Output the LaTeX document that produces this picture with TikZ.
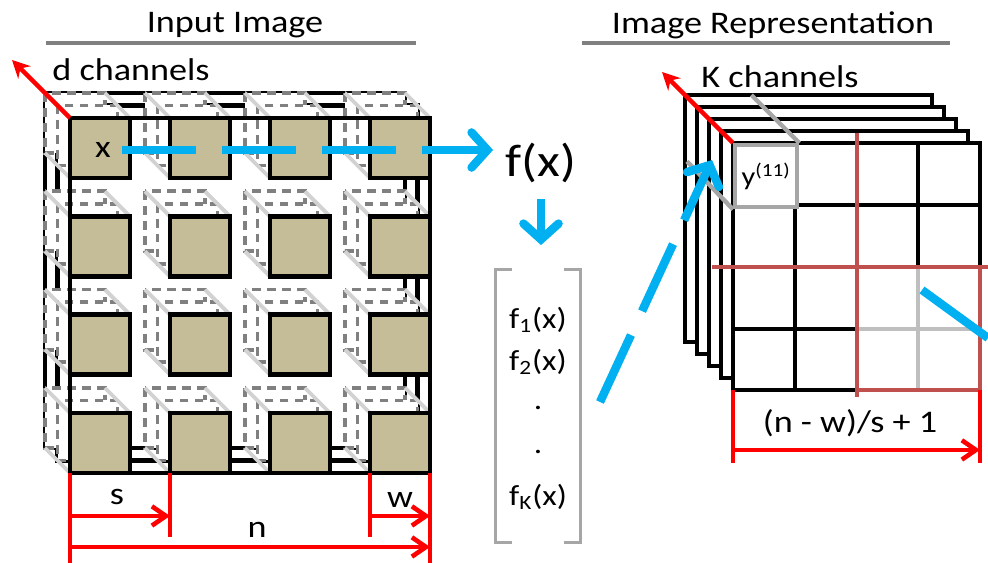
\documentclass[tikz,border=0pt]{standalone}
\usepackage{fontspec}
\setmainfont{Carlito}[FakeStretch=1.15]
\usetikzlibrary{arrows.meta,positioning,calc}
\definecolor{sky}{RGB}{0,176,240}
\definecolor{khaki}{RGB}{196,189,151}
\definecolor{rust}{RGB}{192,80,77}
\definecolor{ash}{RGB}{128,128,128}
\definecolor{silver}{RGB}{166,166,166}
\definecolor{pale}{RGB}{191,191,191}
\definecolor{mist}{RGB}{210,210,210}
\definecolor{signal}{RGB}{255,0,0}
\tikzset{
  txt/.style={font=\fontsize{17.9}{21}\selectfont,inner sep=0pt},
  entry/.style={font=\fontsize{16.5}{19}\selectfont,inner sep=0pt},
  rule/.style={ash,line width=1.8pt},
  layer/.style={draw=black,line width=2.5pt},
  ghost/.style={draw=ash,fill=white,line width=2.1pt,dash pattern=on 5pt off 3.5pt},
  edge/.style={mist,line width=2.2pt},
  patch/.style={draw=black,fill=khaki,line width=2.5pt,minimum size=1.2cm,inner sep=0pt,outer sep=0pt,anchor=north west},
  flow/.style={sky,line width=4.8pt,-{Straight Barb[length=9pt,width=20pt,line cap=round]}},
  jump/.style={flow,dash pattern=on 42pt off 15pt},
  dim/.style={signal,line width=2.6pt},
  dimarrow/.style={dim,-{Straight Barb[length=8pt,width=11pt]}},
  depth/.style={signal,line width=2.6pt,-{Stealth[length=10pt,width=10pt]}},
  cell/.style={black,line width=2.5pt},
  win/.style={rust,line width=2.8pt},
  brk/.style={silver,line width=1.8pt},
}
\begin{document}
\begin{tikzpicture}[x=0.02cm,y=-0.02cm]
  \useasboundingbox (0,0) rectangle (988,563);
  % titles
  \node[txt] (tin) at (235,25) {Input Image};
  \node[txt] (tout) at (773,25) {Image Representation};
  \draw[rule] (46,43) -- (416,43) (582,43) -- (950,43);

  % input volume, back layers first
  \foreach \k in {2,1}
    \draw[layer] (70-12.5*\k,118-12.5*\k) rectangle ++(360,355);
  \foreach \col in {0,...,3}
    \foreach \row in {0,...,3} {
      \coordinate (p) at (70+100*\col,118+98.33*\row);
      \draw[ghost] ($(p)+(-25,-25)$) rectangle ++(60,60);
      \draw[ghost] ($(p)+(-12.5,-12.5)$) rectangle ++(60,60);
      \draw[edge] ($(p)+(-25,-25)$) -- (p) ($(p)+(35,-25)$) -- ($(p)+(60,0)$)
        ($(p)+(-25,35)$) -- ($(p)+(0,60)$);
      \node[patch] (w\col\row) at (p) {};
    }
  \draw[layer] (70,118) rectangle (430,473);
  \node[txt] (xin) at (103,150) {x};
  \draw[depth] (w00.north west) -- ++(-58,-58);
  \node[txt] (dch) at (131,70) {d channels};

  % sizes under the input
  \draw[dim] (w03.south west) -- ++(0,90) (w13.south west) -- ++(0,64)
    (w33.south west) -- ++(0,64) (w33.south east) -- ++(0,90);
  \draw[dimarrow] ($(w03.south west)+(0,43)$) -- ($(w13.south west)+(0,43)$);
  \draw[dimarrow] ($(w33.south west)+(0,43)$) -- ($(w33.south east)+(0,43)$);
  \draw[dimarrow] ($(w03.south west)+(0,74)$) -- ($(w33.south east)+(0,74)$);
  \node[txt] (ls) at (117,497) {s};
  \node[txt] (lw) at (400,500) {w};
  \node[txt] (ln) at (257,530) {n};

  % feature function and vector
  \node[font=\fontsize{26}{30}\selectfont,inner sep=0pt] (fx) at (541,163) {f(x)};
  \draw[jump,shorten <=6pt,shorten >=7pt] (xin.east) -- (xin.east -| fx.west);
  \node[minimum width=1.7cm,minimum height=5.44cm,inner sep=0pt] (vec) at (538,406) {};
  \draw[brk] ($(vec.north west)+(17,0)$) -- (vec.north west) -- (vec.south west) -- ++(17,0);
  \draw[brk] ($(vec.north east)+(-17,0)$) -- (vec.north east) -- (vec.south east) -- ++(-17,0);
  \foreach \t/\y [count=\i] in {f\textsubscript{1}(x)/320,f\textsubscript{2}(x)/362,./408,./452,f\textsubscript{K}(x)/497}
    \node[entry] (e\i) at (538,\y) {\t};
  \draw[flow,shorten <=9pt,shorten >=14pt] (fx.south) -- (fx.south |- vec.north);

  % output stack
  \foreach \k in {4,...,1}
    \draw[layer,fill=white] (733-12*\k,143-12*\k) rectangle ++(247,247);
  \node[draw=black,line width=2.5pt,fill=white,minimum size=4.94cm,inner sep=0pt,outer sep=0pt,anchor=north west] (rep) at (733,143) {};
  \foreach \x in {795,918} \draw[cell] (\x,143) -- (\x,390);
  \foreach \y in {205,329} \draw[cell] (733,\y) -- (980,\y);
  \draw[pale,line width=2.5pt] (918,267) -- (918,390) (857,329) -- (980,329);
  \draw[win] (857,133) -- (857,397) (712,267) -- (988,267);
  \draw[win] (857,390) -| (980,267);
  \node[draw=silver,line width=2.5pt,fill=white,minimum size=1.24cm,inner sep=0pt,anchor=north west,
    font=\fontsize{15}{18}\selectfont] (ybox) at (733,143) {y\textsuperscript{(11)}};
  \draw[silver,line width=2.5pt] (ybox.north east) -- ++(-48,-48) (ybox.south west) -- ++(-46,-48);
  \draw[depth] (ybox.north west) -- ++(-71,-71);
  \node[txt] (kch) at (780,77) {K channels};
  \coordinate (vout) at (600,402);
  \coordinate (yin) at (712,160);
  \draw[jump] (vout) -- (yin);
  \coordinate (go) at (922,290);
  \coordinate (off) at (988,338);
  \draw[sky,line width=4.8pt] (go) -- (off);

  % size of the output
  \draw[dim] (rep.south west) -- ++(0,73) (rep.south east) -- ++(0,73);
  \draw[dimarrow] ($(rep.south west)+(0,60)$) -- ($(rep.south east)+(0,60)$);
  \node[txt] (lout) at (850,423) {(n - w)/s + 1};
\end{tikzpicture}
\end{document}
